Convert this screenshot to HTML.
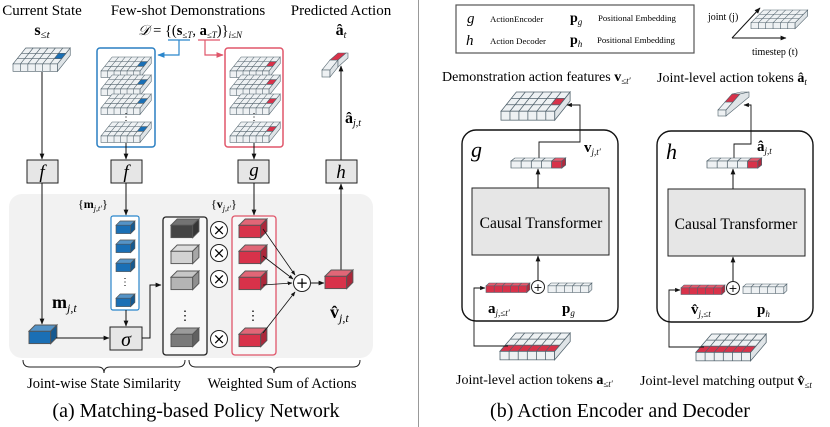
<!DOCTYPE html>
<html><head><meta charset="utf-8"><style>
html,body{margin:0;padding:0;background:#fff;}
svg{display:block;font-family:"Liberation Serif",serif;}
.m{font-style:italic;}
</style></head><body>
<svg width="830" height="427" viewBox="0 0 830 427" xmlns="http://www.w3.org/2000/svg">
<defs>
<marker id="ar" viewBox="0 0 10 10" refX="9" refY="5" markerWidth="6" markerHeight="6" orient="auto-start-reverse"><path d="M0,1 L10,5 L0,9 z" fill="#111"/></marker>
<marker id="arb" viewBox="0 0 10 10" refX="9" refY="5" markerWidth="6" markerHeight="6" orient="auto"><path d="M0,1 L10,5 L0,9 z" fill="#2a86cc"/></marker>
<marker id="arr" viewBox="0 0 10 10" refX="9" refY="5" markerWidth="6" markerHeight="6" orient="auto"><path d="M0,1 L10,5 L0,9 z" fill="#e0566a"/></marker>
<g id="plbase" stroke="#51626c" stroke-width="0.6">
 <polygon points="0,15 42,15 54,0 12,0" fill="#eef1f3"/>
 <rect x="0" y="15" width="42" height="7" fill="#eef1f3"/>
 <polygon points="42,15 54,0 54,7 42,22" fill="#dfe4e7"/>
 <path d="M8,5H50M4,10H46M7,15L19,0M14,15L26,0M21,15L33,0M28,15L40,0M35,15L47,0M7,15V22M14,15V22M21,15V22M28,15V22M35,15V22" fill="none"/>
</g>
<g id="plb"><use href="#plbase"/><polygon points="43,5 50,5 46,10 39,10" fill="#1a6fb5" stroke="#51626c" stroke-width="0.6"/></g>
<g id="plr"><use href="#plbase"/><polygon points="43,5 50,5 46,10 39,10" fill="#d8324a" stroke="#51626c" stroke-width="0.6"/></g>
<g id="plrow"><use href="#plbase"/><polygon points="4,10 46,10 42,15 0,15" fill="#d8324a" stroke="#51626c" stroke-width="0.6"/><path d="M11,10L7,15M18,10L14,15M25,10L21,15M32,10L28,15M39,10L35,15" stroke="#51626c" stroke-width="0.6"/></g>
<g id="cube" stroke="#555" stroke-width="0.6">
 <rect x="0" y="4" width="14" height="8" fill="currentColor"/>
 <polygon points="0,4 4,0 18,0 14,4" fill="currentColor"/>
 <polygon points="0,4 4,0 18,0 14,4" fill="#fff" opacity="0.25"/>
 <polygon points="14,4 18,0 18,8 14,12" fill="currentColor"/>
 <polygon points="14,4 18,0 18,8 14,12" fill="#000" opacity="0.2"/>
</g>
<g id="row5" stroke="#51626c" stroke-width="0.6">
 <polygon points="0,3 3,0 43,0 40,3" fill="#eef1f3"/>
 <rect x="0" y="3" width="40" height="7" fill="#eef1f3"/>
 <polygon points="40,3 43,0 43,7 40,10" fill="#dfe4e7"/>
 <path d="M8,3V10M16,3V10M24,3V10M32,3V10M8,3L11,0M16,3L19,0M24,3L27,0M32,3L35,0" fill="none"/>
</g>
<g id="row5r" stroke="#51626c" stroke-width="0.6">
 <polygon points="0,3 3,0 43,0 40,3" fill="#e8596c"/>
 <rect x="0" y="3" width="40" height="7" fill="#d8324a"/>
 <polygon points="40,3 43,0 43,7 40,10" fill="#b02a3e"/>
 <path d="M8,3V10M16,3V10M24,3V10M32,3V10M8,3L11,0M16,3L19,0M24,3L27,0M32,3L35,0" fill="none"/>
</g>
<g id="row5e"><use href="#row5"/><rect x="32" y="3" width="8" height="7" fill="#d8324a" stroke="#51626c" stroke-width="0.6"/><polygon points="32,3 35,0 43,0 40,3" fill="#e8596c" stroke="#51626c" stroke-width="0.6"/><polygon points="40,3 43,0 43,7 40,10" fill="#b02a3e" stroke="#51626c" stroke-width="0.6"/></g>
</defs>

<!-- ===== LEFT PANEL ===== -->
<rect x="9" y="194" width="364" height="164" rx="13" fill="#f2f2f2"/>
<text x="42" y="15" font-size="15" text-anchor="middle">Current State</text>
<text x="42" y="35" font-size="16" text-anchor="middle" font-weight="bold">s<tspan font-size="11" font-weight="normal" font-style="italic" dy="3">≤t</tspan></text>
<text x="188" y="15" font-size="15" text-anchor="middle">Few-shot Demonstrations</text>
<text x="190" y="35" font-size="14.5" text-anchor="middle"><tspan class="m">𝒟</tspan> = {(<tspan font-weight="bold">s</tspan><tspan font-size="9" class="m" dy="3">≤T</tspan><tspan dy="-3">, </tspan><tspan font-weight="bold">a</tspan><tspan font-size="9" dy="3" class="m">≤T</tspan><tspan dy="-3">)}</tspan><tspan font-size="9" dy="3" class="m">i≤N</tspan></text>
<text x="341" y="15" font-size="15" text-anchor="middle">Predicted Action</text>
<text x="341" y="35" font-size="16" text-anchor="middle" font-weight="bold">â<tspan font-size="10" font-weight="normal" class="m" dy="3">t</tspan></text>

<use href="#plb" transform="translate(13,48) scale(1.06)"/>
<line x1="42" y1="72" x2="42" y2="159" stroke="#111" marker-end="url(#ar)"/>

<path d="M168,40H190M179,40V55H158" fill="none" stroke="#2a86cc" stroke-width="1.2" marker-end="url(#arb)"/>
<path d="M198,40H220M205,40V55H223" fill="none" stroke="#e0566a" stroke-width="1.2" marker-end="url(#arr)"/>
<rect x="97" y="48" width="58" height="99" rx="3" fill="#fff" stroke="#2a7fc2" stroke-width="1.5"/>
<use href="#plb" transform="translate(101,57) scale(0.93)"/>
<use href="#plb" transform="translate(101,75) scale(0.93)"/>
<use href="#plb" transform="translate(101,94) scale(0.93)"/>
<text x="126" y="120" font-size="10" text-anchor="middle">⋮</text>
<use href="#plb" transform="translate(101,122) scale(0.93)"/>
<rect x="225" y="48" width="58" height="99" rx="3" fill="#fff" stroke="#e0566a" stroke-width="1.5"/>
<use href="#plr" transform="translate(230,57) scale(0.93)"/>
<use href="#plr" transform="translate(230,75) scale(0.93)"/>
<use href="#plr" transform="translate(230,94) scale(0.93)"/>
<text x="254" y="120" font-size="10" text-anchor="middle">⋮</text>
<use href="#plr" transform="translate(230,122) scale(0.93)"/>
<line x1="126" y1="143" x2="126" y2="159" stroke="#111" marker-end="url(#ar)"/>
<line x1="254" y1="143" x2="254" y2="159" stroke="#111" marker-end="url(#ar)"/>

<g stroke="#51626c" stroke-width="0.6">
<polygon points="322,70 330,70 338,60 330,60" fill="#eef1f3"/>
<rect x="322" y="70" width="8" height="7" fill="#eef1f3"/>
<polygon points="330,60 338,60 346,53 338,53" fill="#d8324a"/>
<polygon points="330,70 338,60 338,67 330,77" fill="#dfe4e7"/>
<polygon points="338,60 346,53 348,53 348,58 338,67" fill="#dfe4e7"/>
</g>
<line x1="341" y1="160" x2="341" y2="66" stroke="#111" marker-end="url(#ar)"/>
<text x="345" y="123" font-size="16" font-weight="bold">â<tspan font-size="10" font-weight="normal" class="m" dy="3">j,t</tspan></text>

<g fill="#e6e6e6" stroke="#222" stroke-width="1">
<rect x="27" y="160" width="31" height="23"/><rect x="111" y="160" width="31" height="23"/>
<rect x="238" y="160" width="31" height="23"/><rect x="326" y="160" width="31" height="23"/>
</g>
<g font-size="19" class="m" text-anchor="middle">
<text x="42" y="178">f</text><text x="126" y="178">f</text><text x="254" y="176">g</text><text x="341" y="178">h</text>
</g>
<line x1="42" y1="183" x2="42" y2="324" stroke="#111" marker-end="url(#ar)"/>
<line x1="126" y1="183" x2="126" y2="215" stroke="#111" marker-end="url(#ar)"/>
<line x1="254" y1="183" x2="254" y2="215" stroke="#111" marker-end="url(#ar)"/>
<line x1="341" y1="270" x2="341" y2="184" stroke="#111" marker-end="url(#ar)"/>

<text x="78" y="208" font-size="12">{<tspan font-weight="bold">m</tspan><tspan font-size="8" class="m" dy="3">j,t′</tspan><tspan dy="-3">}</tspan></text>
<text x="211" y="208" font-size="12">{<tspan font-weight="bold">v</tspan><tspan font-size="8" class="m" dy="3">j,t′</tspan><tspan dy="-3">}</tspan></text>

<rect x="111" y="216" width="28" height="94" rx="2" fill="#fff" stroke="#2a86cc" stroke-width="1.2"/>
<use href="#cube" color="#1a6fb5" transform="translate(116,221) scale(1.05)"/>
<use href="#cube" color="#1a6fb5" transform="translate(116,240) scale(1.05)"/>
<use href="#cube" color="#1a6fb5" transform="translate(116,259) scale(1.05)"/>
<text x="125" y="285" font-size="10" text-anchor="middle">⋮</text>
<use href="#cube" color="#1a6fb5" transform="translate(116,294) scale(1.05)"/>
<line x1="126" y1="310" x2="126" y2="326" stroke="#111" marker-end="url(#ar)"/>
<use href="#cube" color="#1a6fb5" transform="translate(29,325) scale(1.55)"/>
<text x="52" y="308" font-size="18" font-weight="bold">m<tspan font-size="12" font-weight="normal" class="m" dy="4">j,t</tspan></text>
<line x1="56" y1="338" x2="109" y2="338" stroke="#111" marker-end="url(#ar)"/>
<rect x="110" y="327" width="32" height="23" fill="#e6e6e6" stroke="#222"/>
<text x="126" y="346" font-size="20" class="m" text-anchor="middle">σ</text>
<path d="M142,338H150V285H161" fill="none" stroke="#111" marker-end="url(#ar)"/>

<rect x="163" y="217" width="44" height="138" rx="3" fill="#f7f7f7" stroke="#222" stroke-width="1.3"/>
<use href="#cube" color="#444" transform="translate(171,219) scale(1.55)"/>
<use href="#cube" color="#d2d2d2" transform="translate(171,245) scale(1.55)"/>
<use href="#cube" color="#b4b4b4" transform="translate(171,271) scale(1.55)"/>
<text x="185" y="320" font-size="13" text-anchor="middle">⋮</text>
<use href="#cube" color="#7a7a7a" transform="translate(171,328) scale(1.55)"/>
<g fill="#fff" stroke="#222"><circle cx="219" cy="230" r="8.5"/><circle cx="219" cy="253" r="8.5"/><circle cx="219" cy="279" r="8.5"/><circle cx="219" cy="339" r="8.5"/></g>
<g font-size="15" text-anchor="middle" font-family="DejaVu Sans, sans-serif"><text x="219" y="235">×</text><text x="219" y="258">×</text><text x="219" y="284">×</text><text x="219" y="344">×</text></g>

<rect x="232" y="216" width="44" height="139" rx="3" fill="#f7f7f7" stroke="#e0566a" stroke-width="1.3"/>
<use href="#cube" color="#d8324a" transform="translate(239,219) scale(1.55)"/>
<use href="#cube" color="#d8324a" transform="translate(239,245) scale(1.55)"/>
<use href="#cube" color="#d8324a" transform="translate(239,271) scale(1.55)"/>
<text x="253" y="320" font-size="13" text-anchor="middle">⋮</text>
<use href="#cube" color="#d8324a" transform="translate(239,328) scale(1.55)"/>
<g stroke="#111" stroke-width="0.8" marker-end="url(#ar)">
<line x1="263" y1="229" x2="295" y2="275"/>
<line x1="263" y1="256" x2="293" y2="279"/>
<line x1="263" y1="285" x2="292" y2="283"/>
<line x1="263" y1="333" x2="295" y2="292"/>
</g>
<circle cx="302" cy="283" r="8.5" fill="#fff" stroke="#222"/>
<text x="302" y="288" font-size="15" text-anchor="middle" font-family="DejaVu Sans, sans-serif">+</text>
<line x1="311" y1="283" x2="324" y2="283" stroke="#111" marker-end="url(#ar)"/>
<use href="#cube" color="#d8324a" transform="translate(325,270) scale(1.55)"/>
<text x="330" y="318" font-size="18" font-weight="bold">v̂<tspan font-size="12" font-weight="normal" class="m" dy="4">j,t</tspan></text>

<path d="M23,360 Q23,367 30,367 H98 Q104,367 104,373 Q104,367 110,367 H178 Q185,367 185,360" fill="none" stroke="#222"/>
<path d="M189,360 Q189,367 196,367 H268 Q274,367 274,373 Q274,367 280,367 H353 Q360,367 360,360" fill="none" stroke="#222"/>
<text x="104" y="388" font-size="14.5" text-anchor="middle">Joint-wise State Similarity</text>
<text x="282" y="388" font-size="14.5" text-anchor="middle">Weighted Sum of Actions</text>
<text x="196" y="417" font-size="20" text-anchor="middle">(a) Matching-based Policy Network</text>

<line x1="418.5" y1="0" x2="418.5" y2="427" stroke="#999"/>

<!-- ===== RIGHT PANEL ===== -->
<rect x="456" y="5" width="238" height="48" fill="#fff" stroke="#555" stroke-width="1.2"/>
<text x="467" y="23" font-size="15" class="m">g</text>
<text x="490" y="22" font-size="8.8">ActionEncoder</text>
<text x="570" y="22" font-size="14" font-weight="bold">p<tspan font-size="9" font-weight="normal" class="m" dy="3">g</tspan></text>
<text x="598" y="21" font-size="8.8">Positional Embedding</text>
<text x="466" y="45" font-size="15" class="m">h</text>
<text x="490" y="44" font-size="8.8">Action Decoder</text>
<text x="570" y="44" font-size="14" font-weight="bold">p<tspan font-size="9" font-weight="normal" class="m" dy="3">h</tspan></text>
<text x="597" y="43" font-size="8.8">Positional Embedding</text>

<line x1="732" y1="38" x2="760" y2="8" stroke="#111" marker-end="url(#ar)"/>
<line x1="732" y1="38" x2="786" y2="38" stroke="#111" marker-end="url(#ar)"/>
<text x="708" y="20" font-size="10">joint (j)</text>
<text x="752" y="55" font-size="10">timestep (t)</text>
<use href="#plbase" transform="translate(751,10) scale(1.05,0.85)"/>

<text x="442" y="81" font-size="14">Demonstration action features <tspan font-weight="bold">v</tspan><tspan font-size="9" class="m" dy="3">≤t′</tspan></text>
<text x="657" y="82" font-size="14">Joint-level action tokens <tspan font-weight="bold">â</tspan><tspan font-size="9" class="m" dy="3">t</tspan></text>

<use href="#plr" transform="translate(501,92) scale(1.28)"/>
<rect x="462" y="130" width="156" height="191" rx="14" fill="none" stroke="#111" stroke-width="1.4"/>
<text x="471" y="157" font-size="22" class="m">g</text>
<path d="M539,158V142H580V105H567" fill="none" stroke="#111" stroke-width="0.9" marker-end="url(#ar)"/>
<use href="#row5e" transform="translate(511,158) scale(1.27,1)"/>
<text x="584" y="152" font-size="15" font-weight="bold">v<tspan font-size="9" font-weight="normal" class="m" dy="3">j,t′</tspan></text>
<line x1="538" y1="188" x2="538" y2="169" stroke="#111" marker-end="url(#ar)"/>
<rect x="472" y="188" width="137" height="67" fill="#e6e6e6" stroke="#222"/>
<text x="541" y="228" font-size="15.5" text-anchor="middle">Causal Transformer</text>
<line x1="538" y1="280" x2="538" y2="256" stroke="#111" marker-end="url(#ar)"/>
<use href="#row5r" transform="translate(486,283) scale(1.02,0.95)"/>
<circle cx="538" cy="287" r="6.5" fill="#fff" stroke="#222"/>
<text x="538" y="291" font-size="11" text-anchor="middle" font-family="DejaVu Sans, sans-serif">+</text>
<use href="#row5" transform="translate(548,283) scale(1.02,0.95)"/>
<text x="488" y="313" font-size="15" font-weight="bold">a<tspan font-size="9" font-weight="normal" class="m" dy="3">j,≤t′</tspan></text>
<text x="562" y="313" font-size="15" font-weight="bold">p<tspan font-size="9" font-weight="normal" class="m" dy="3">g</tspan></text>
<use href="#plrow" transform="translate(500,333) scale(1.3,1.22)"/>
<path d="M508,346H474V288H485" fill="none" stroke="#111" stroke-width="0.9" marker-end="url(#ar)"/>
<text x="456" y="384" font-size="14">Joint-level action tokens <tspan font-weight="bold">a</tspan><tspan font-size="9" class="m" dy="3">≤t′</tspan></text>

<g stroke="#51626c" stroke-width="0.6">
<polygon points="718,110 726,110 733,102 725,102" fill="#eef1f3"/>
<rect x="718" y="110" width="8" height="6" fill="#eef1f3"/>
<polygon points="725,102 733,102 740,94 732,94" fill="#d8324a"/>
<polygon points="732,94 740,94 749,92 741,92" fill="#eef1f3"/>
<polygon points="726,110 733,102 740,94 749,92 749,97 726,116" fill="#dfe4e7"/>
</g>
<rect x="657" y="131" width="156" height="191" rx="14" fill="none" stroke="#111" stroke-width="1.4"/>
<text x="666" y="159" font-size="22" class="m">h</text>
<path d="M734,158V144H751V105H744" fill="none" stroke="#111" stroke-width="0.9" marker-end="url(#ar)"/>
<use href="#row5e" transform="translate(707,158) scale(1.27,1)"/>
<text x="757" y="151" font-size="15" font-weight="bold">â<tspan font-size="9" font-weight="normal" class="m" dy="3">j,t</tspan></text>
<line x1="733" y1="189" x2="733" y2="169" stroke="#111" marker-end="url(#ar)"/>
<rect x="668" y="189" width="137" height="67" fill="#e6e6e6" stroke="#222"/>
<text x="736" y="229" font-size="15.5" text-anchor="middle">Causal Transformer</text>
<line x1="733" y1="281" x2="733" y2="257" stroke="#111" marker-end="url(#ar)"/>
<use href="#row5r" transform="translate(681,285) scale(1.02,0.95)"/>
<circle cx="733" cy="288" r="6.5" fill="#fff" stroke="#222"/>
<text x="733" y="292" font-size="11" text-anchor="middle" font-family="DejaVu Sans, sans-serif">+</text>
<use href="#row5" transform="translate(743,284) scale(1.02,0.95)"/>
<text x="691" y="314" font-size="15" font-weight="bold">v̂<tspan font-size="9" font-weight="normal" class="m" dy="3">j,≤t</tspan></text>
<text x="757" y="314" font-size="15" font-weight="bold">p<tspan font-size="9" font-weight="normal" class="m" dy="3">h</tspan></text>
<use href="#plrow" transform="translate(696,334) scale(1.3,1.22)"/>
<path d="M704,347H669V290H680" fill="none" stroke="#111" stroke-width="0.9" marker-end="url(#ar)"/>
<text x="640" y="385" font-size="14">Joint-level matching output <tspan font-weight="bold">v̂</tspan><tspan font-size="9" class="m" dy="3">≤t</tspan></text>

<text x="620" y="417" font-size="20" text-anchor="middle">(b) Action Encoder and Decoder</text>
</svg>
</body></html>
